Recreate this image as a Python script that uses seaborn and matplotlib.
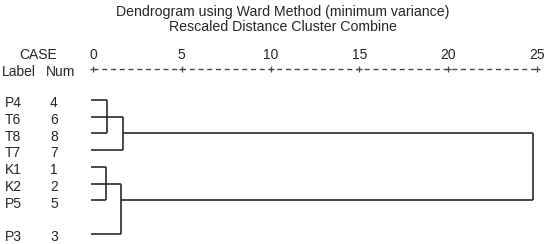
import matplotlib
matplotlib.use("Agg")
import matplotlib.pyplot as plt
import matplotlib.transforms as mtransforms
import seaborn as sns

sns.set_style("white")
plt.rcParams["font.family"] = ["Liberation Sans", "DejaVu Sans"]

# cases, top to bottom
case_labels = ["P4", "T6", "T8", "T7", "K1", "K2", "P5", "P3"]
case_nums = [4, 6, 8, 7, 1, 2, 5, 3]
case_rows = [0, 1, 2, 3, 4, 5, 6, 8]

# merge steps (SPSS style): children, rescaled distance, row of the outgoing line
node_names = ["A", "B", "C", "D", "E"]
node_children = [["P4", "T6", "T8"], ["A", "T7"], ["K1", "K2", "P5"], ["C", "P3"], ["B", "D"]]
node_heights = [0.79, 1.69, 0.73, 1.58, 24.77]
node_rows = [1, 2, 5, 6, 4]

axis_ticks = [0, 5, 10, 15, 20, 25]

W, H = 550, 244
fig = plt.figure(figsize=(W / 100, H / 100), dpi=100)
ax = fig.add_axes([0, 0, 1, 1])
px_per_unit = (537 - 93) / 25
ax.set_xlim(-93 / px_per_unit, 25 + (W - 537) / px_per_unit)
row_h = 16.75
ax.set_ylim((H - 100) / row_h, -100 / row_h)
ax.axis("off")

line_kw = dict(color="#2a2a2a", lw=1.2, solid_capstyle="butt")
pos = {lab: (-0.1, r) for lab, r in zip(case_labels, case_rows)}
for name, kids, h, r in zip(node_names, node_children, node_heights, node_rows):
    kid_rows = []
    for k in kids:
        x0, kr = pos[k]
        ax.plot([x0, h], [kr, kr], **line_kw)
        kid_rows.append(kr)
    ax.plot([h, h], [min(kid_rows), max(kid_rows)], **line_kw)
    pos[name] = (h, r)

# case labels
tr = mtransforms.blended_transform_factory(ax.transAxes, ax.transData)
fs = 10
for lab, num, r in zip(case_labels, case_nums, case_rows):
    ax.text(5 / W, r + 0.18, lab, transform=tr, ha="left", va="center", fontsize=fs)
    ax.text(50 / W, r + 0.18, str(num), transform=tr, ha="left", va="center", fontsize=fs)

# scale line
scale_row = (69 - 100) / row_h
ax.plot([0, 25], [scale_row, scale_row], color="#4a4a4a", lw=1.0, ls=(0, (3.6, 2.7)))
ax.plot(axis_ticks, [scale_row] * len(axis_ticks), ls="none", marker="+",
        color="#4a4a4a", ms=5, mew=0.9)
for t in axis_ticks:
    ax.text(t, (55 - 100) / row_h, str(t), ha="center", va="center", fontsize=fs)

# headers
fig.text(38 / W, 1 - 55 / H, "CASE", ha="center", va="center", fontsize=fs)
fig.text(2 / W, 1 - 72 / H, "Label", ha="left", va="center", fontsize=fs)
fig.text(46 / W, 1 - 72 / H, "Num", ha="left", va="center", fontsize=fs)
fig.text(283 / W, 1 - 12 / H, "Dendrogram using Ward Method (minimum variance)",
         ha="center", va="center", fontsize=10.2)
fig.text(283 / W, 1 - 27 / H, "Rescaled Distance Cluster Combine",
         ha="center", va="center", fontsize=10.2)

fig.savefig("out.png", dpi=100, facecolor="white")
